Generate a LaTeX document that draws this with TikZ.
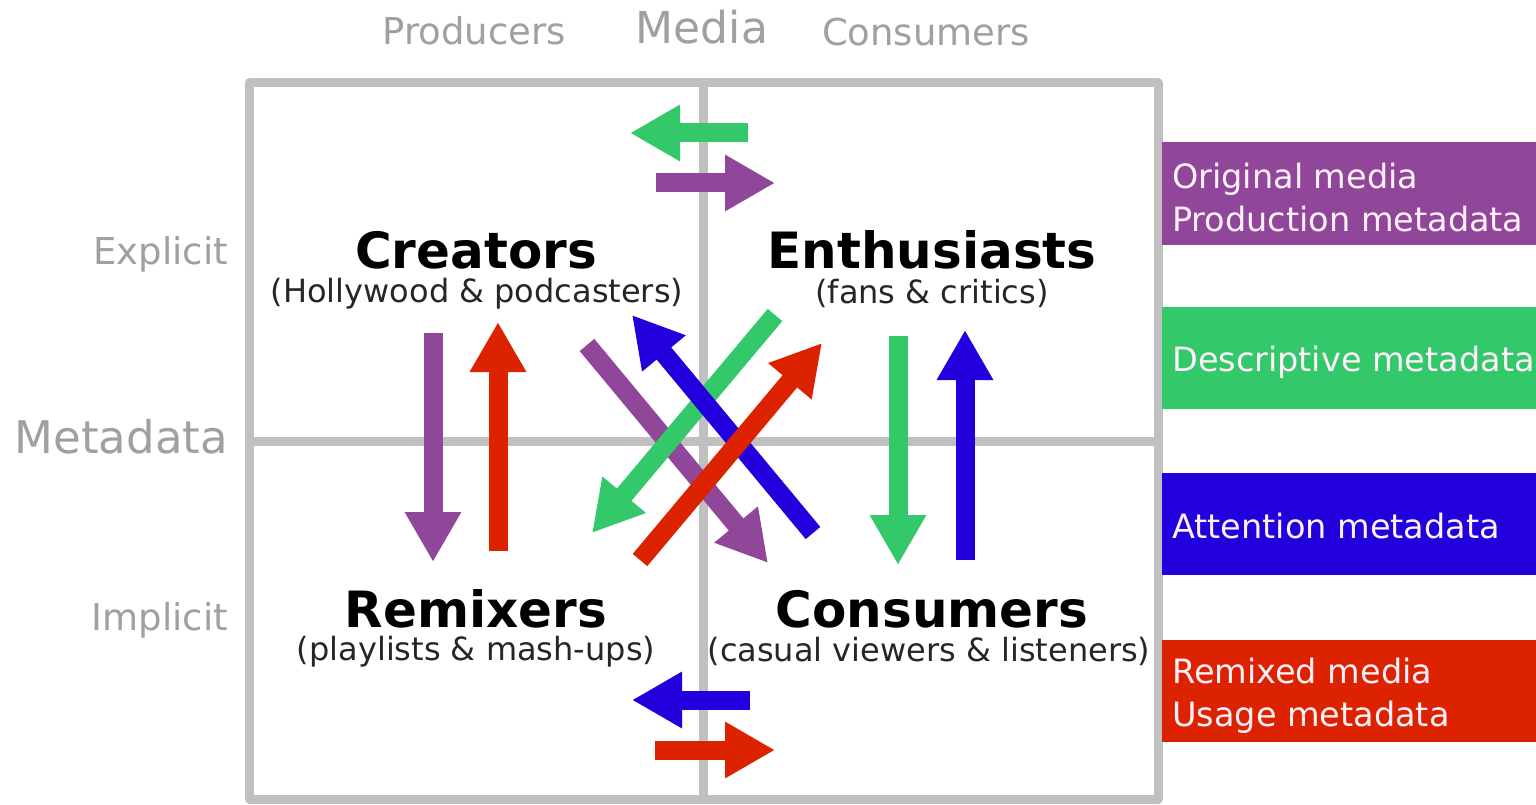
\documentclass[tikz,border=0pt]{standalone}
\usepackage{fontspec}
\setmainfont{DejaVu Sans}
\usetikzlibrary{arrows.meta}
\definecolor{mpurple}{HTML}{904799}
\definecolor{mgreen}{HTML}{33C96A}
\definecolor{mblue}{HTML}{2200DD}
\definecolor{mred}{HTML}{DD2200}
\definecolor{gridgray}{HTML}{C0C0C0}
\definecolor{labgray}{HTML}{A0A0A0}
\definecolor{boxtext}{HTML}{FFF0FA}
\begin{document}
\begin{tikzpicture}[x=1pt,y=-1pt,
  gridline/.style={draw=gridgray,line width=9pt,line join=round},
  fatarrow/.style={line width=19pt,-{Triangle[length=50pt,width=53pt]}},
  axislab/.style={text=labgray,inner sep=0pt,font=\fontsize{37}{40}\selectfont},
  biglab/.style={text=labgray,inner sep=0pt,font=\fontsize{45}{48}\selectfont},
  rolename/.style={text=black,inner sep=0pt,anchor=base,font=\bfseries\fontsize{50}{54}\selectfont},
  rolesub/.style={text=black!85,inner sep=0pt,anchor=base,font=\fontsize{32}{35}\selectfont},
  keytext/.style={text=boxtext,inner sep=0pt,anchor=base west,font=\fontsize{33.5}{36}\selectfont}]
\useasboundingbox (0,0) rectangle (1536,805);
\fill[white] (0,0) rectangle (1536,805);

% grid
\draw[gridline] (249,83) rectangle (1158,799);
\draw[gridline] (703,83) -- (703,799);
\draw[gridline] (249,441) -- (1158,441);

% top and side labels
\node[axislab,anchor=base] (prod) at (474,45) {Producers};
\node[biglab,anchor=base,font=\fontsize{44}{48}\selectfont] (media) at (702,44) {Media};
\node[axislab,anchor=base] (cons) at (926,46) {Consumers};
\node[axislab,anchor=base east] (expl) at (228,264) {Explicit};
\node[biglab,anchor=base east] (meta) at (228,453) {Metadata};
\node[axislab,anchor=base east] (impl) at (228,630) {Implicit};

% role names
\node[rolename] (creators) at (476,268) {Creators};
\node[rolesub] (creatorssub) at (477,302) {(Hollywood \& podcasters)};
\node[rolename] (enth) at (932,268) {Enthusiasts};
\node[rolesub] (enthsub) at (932,303) {(fans \& critics)};
\node[rolename] (remix) at (476,627) {Remixers};
\node[rolesub] (remixsub) at (476,660) {(playlists \& mash-ups)};
\node[rolename] (consumers) at (932,627) {Consumers};
\node[rolesub] (consumerssub) at (929,661) {(casual viewers \& listeners)};

% arrow end points
\coordinate (tgS) at (748,133); \coordinate (tgE) at (630,133);
\coordinate (tpS) at (656,183); \coordinate (tpE) at (775,183);
\coordinate (bbS) at (750,700); \coordinate (bbE) at (632,700);
\coordinate (brS) at (655,750); \coordinate (brE) at (775,750);
\coordinate (lpS) at (433,333); \coordinate (lpE) at (433,562);
\coordinate (lrS) at (498,551); \coordinate (lrE) at (498,322);
\coordinate (rgS) at (898,336); \coordinate (rgE) at (898,565);
\coordinate (rbS) at (965,560); \coordinate (rbE) at (965,330);
\coordinate (dpS) at (587,345); \coordinate (dpE) at (768,563);
\coordinate (dgS) at (775,315); \coordinate (dgE) at (592,533);
\coordinate (dbS) at (813,533); \coordinate (dbE) at (632,315);
\coordinate (drS) at (640,560); \coordinate (drE) at (822,343);

% arrows
\draw[fatarrow,mgreen] (tgS) -- (tgE);
\draw[fatarrow,mpurple] (tpS) -- (tpE);
\draw[fatarrow,mblue] (bbS) -- (bbE);
\draw[fatarrow,mred] (brS) -- (brE);
\draw[fatarrow,mpurple] (lpS) -- (lpE);
\draw[fatarrow,mred] (lrS) -- (lrE);
\draw[fatarrow,mgreen] (rgS) -- (rgE);
\draw[fatarrow,mblue] (rbS) -- (rbE);
\draw[fatarrow,mpurple] (dpS) -- (dpE);
\draw[fatarrow,mgreen] (dgS) -- (dgE);
\draw[fatarrow,mblue] (dbS) -- (dbE);
\draw[fatarrow,mred] (drS) -- (drE);

% legend boxes
\fill[mpurple] (1162,142) rectangle (1536,245);
\fill[mgreen] (1162,307) rectangle (1536,409);
\fill[mblue] (1162,473) rectangle (1536,575);
\fill[mred] (1162,640) rectangle (1536,742);
\node[keytext] (k1a) at (1172,189) {Original media};
\node[keytext] (k1b) at (1172,231) {Production metadata};
\node[keytext] (k2) at (1172,371) {Descriptive metadata};
\node[keytext] (k3) at (1172,538) {Attention metadata};
\node[keytext] (k4a) at (1172,683) {Remixed media};
\node[keytext] (k4b) at (1172,726) {Usage metadata};
\end{tikzpicture}
\end{document}
